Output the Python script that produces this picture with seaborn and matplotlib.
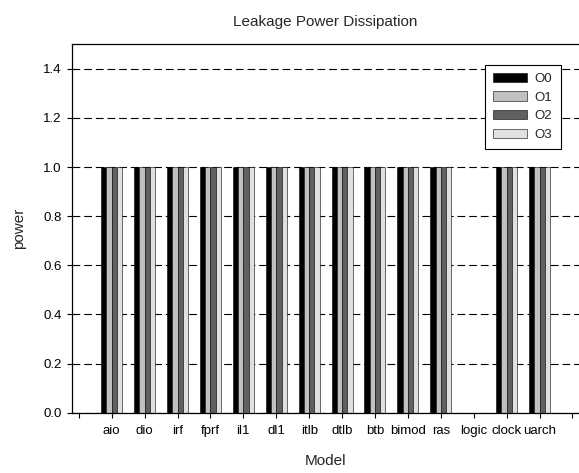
import matplotlib
matplotlib.use("Agg")
import matplotlib.pyplot as plt
import seaborn as sns
import pandas as pd

# Leakage power per model component, one series per optimisation level
models = ["aio", "dio", "irf", "fprf", "il1", "dl1", "itlb", "dtlb",
          "btb", "bimod", "ras", "logic", "clock", "uarch"]
o0 = [1.0, 1.0, 1.0, 1.0, 1.0, 1.0, 1.0, 1.0, 1.0, 1.0, 1.0, 0.0, 1.0, 1.0]
o1 = [1.0, 1.0, 1.0, 1.0, 1.0, 1.0, 1.0, 1.0, 1.0, 1.0, 1.0, 0.0, 1.0, 1.0]
o2 = [1.0, 1.0, 1.0, 1.0, 1.0, 1.0, 1.0, 1.0, 1.0, 1.0, 1.0, 0.0, 1.0, 1.0]
o3 = [1.0, 1.0, 1.0, 1.0, 1.0, 1.0, 1.0, 1.0, 1.0, 1.0, 1.0, 0.0, 1.0, 1.0]
levels = ["O0", "O1", "O2", "O3"]
y_ticks = [0.0, 0.2, 0.4, 0.6, 0.8, 1.0, 1.2, 1.4]

sns.set_theme(style="white")
plt.rcParams["font.family"] = ["Liberation Sans", "DejaVu Sans"]

rows = []
for lvl, vals in zip(levels, [o0, o1, o2, o3]):
    for m, v in zip(models, vals):
        rows.append({"Model": m, "level": lvl, "power": v})
df = pd.DataFrame(rows)

# empty slots at both ends of the category axis
order = [" "] + models + ["  "]
palette = {"O0": "#000000", "O1": "#c0c0c0", "O2": "#606060", "O3": "#e0e0e0"}

fig = plt.figure(figsize=(5.79, 4.73), dpi=100)
ax = fig.add_axes([0.1247, 0.1275, 0.8753, 0.7788])

ax.set_axisbelow(True)
ax.grid(axis="y", color="black", linestyle=(0, (7, 3.5)), linewidth=0.8)

sns.barplot(data=df, x="Model", y="power", hue="level", order=order,
            hue_order=levels, palette=palette, width=0.64, gap=0,
            edgecolor="black", linewidth=0.4, saturation=1, ax=ax)

ax.set_xlim(-0.2, 15.2)
ax.set_ylim(0, 1.5)
ax.set_yticks(y_ticks)
ax.set_yticklabels([f"{t:.1f}" for t in y_ticks])

for side in ["left", "bottom", "top"]:
    ax.spines[side].set_color("black")
    ax.spines[side].set_linewidth(0.9)
ax.spines["right"].set_visible(False)

ax.tick_params(axis="both", direction="out", length=3.6, width=0.8,
               color="black", labelsize=9.5, labelcolor="black")
ax.tick_params(axis="x", pad=5.5)
ax.tick_params(axis="y", pad=4)
ax.tick_params(left=True, bottom=True)

ax.set_xlabel("Model", fontsize=11, labelpad=12)
ax.set_ylabel("power", fontsize=11, labelpad=12)
ax.set_title("Leakage Power Dissipation", fontsize=11, pad=13)

leg = ax.legend(loc="upper right", bbox_to_anchor=(0.9635, 0.944),
                borderaxespad=0, fontsize=9.5, frameon=True, fancybox=False,
                handlelength=2.6, handleheight=0.7, labelspacing=0.48,
                borderpad=0.6, handletextpad=0.6, edgecolor="black",
                framealpha=1)
leg.get_frame().set_linewidth(0.8)
leg.set_title(None)

fig.savefig("out.png", dpi=100)
